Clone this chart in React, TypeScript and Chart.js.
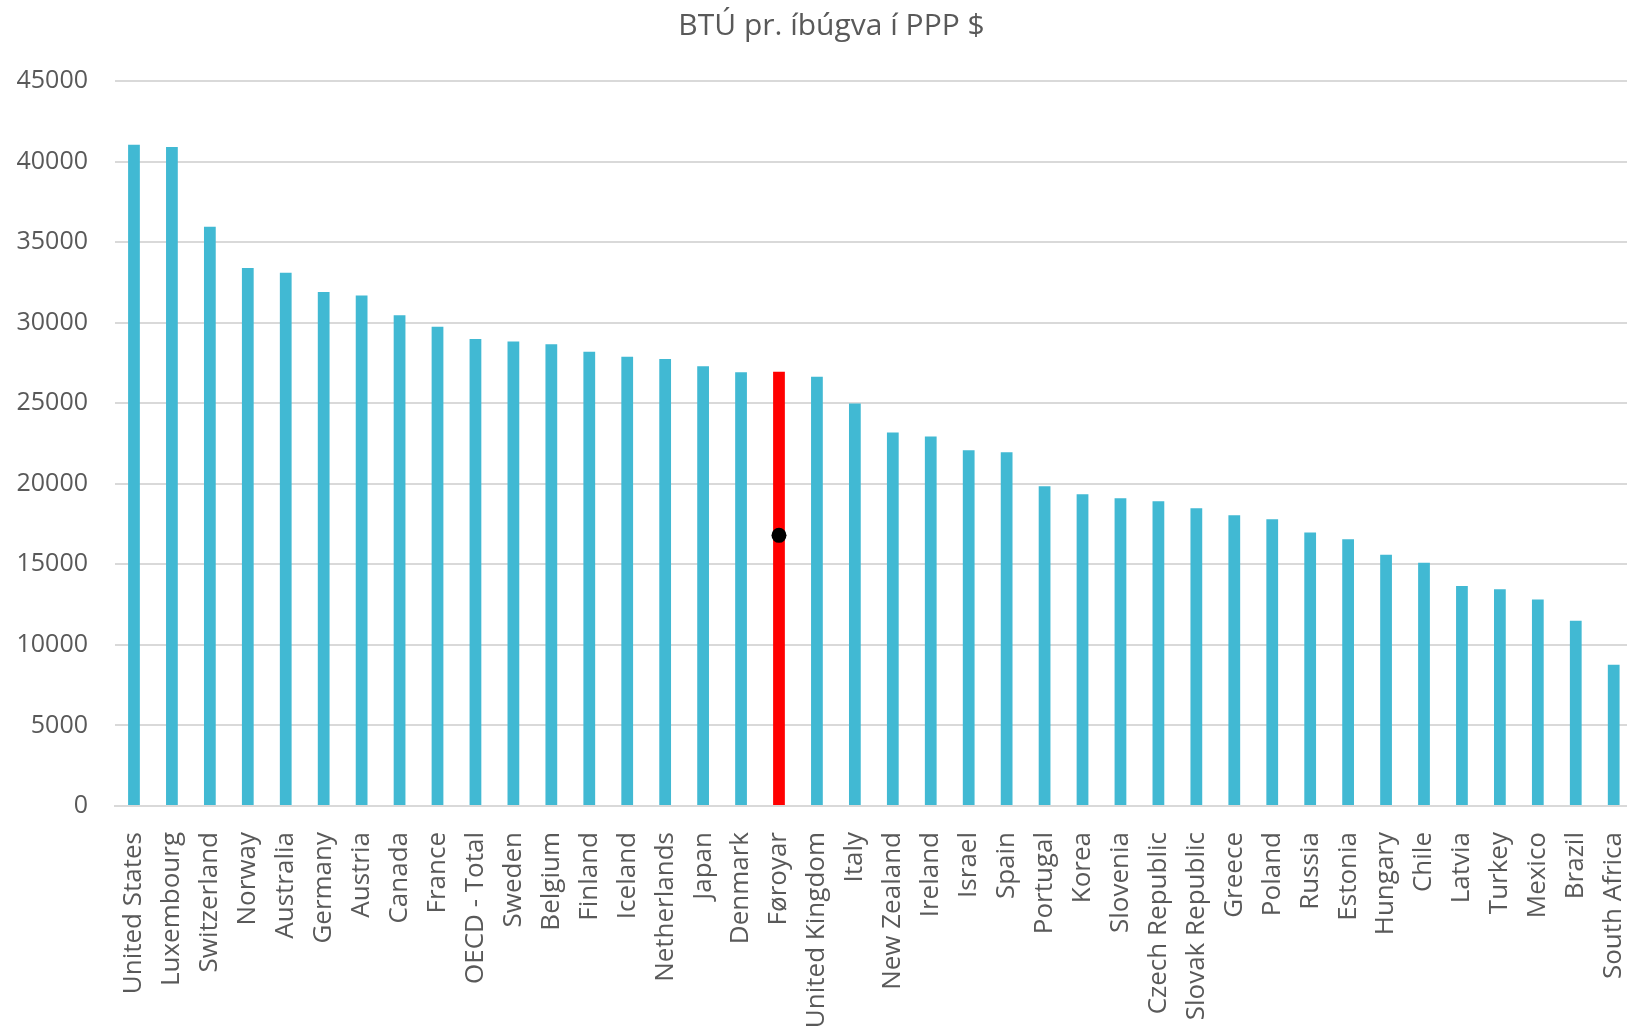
import React, { useEffect, useRef } from "react";
import { Chart, registerables } from "chart.js";

Chart.register(...registerables);

const categories = [
  "United States", "Luxembourg", "Switzerland", "Norway", "Australia", "Germany", "Austria",
  "Canada", "France", "OECD - Total", "Sweden", "Belgium", "Finland", "Iceland", "Netherlands",
  "Japan", "Denmark", "Føroyar", "United Kingdom", "Italy", "New Zealand", "Ireland", "Israel",
  "Spain", "Portugal", "Korea", "Slovenia", "Czech Republic", "Slovak Republic", "Greece",
  "Poland", "Russia", "Estonia", "Hungary", "Chile", "Latvia", "Turkey", "Mexico", "Brazil",
  "South Africa",
];

const btuValues = [
  41050, 40900, 35950, 33400, 33100, 31900, 31680, 30460, 29740, 28980, 28830, 28660, 28200,
  27890, 27740, 27300, 26920, 26950, 26650, 24980, 23180, 22930, 22080, 21960, 19850, 19350,
  19100, 18910, 18480, 18050, 17800, 16980, 16550, 15600, 15100, 13660, 13460, 12820, 11500,
  8760,
];

// Marker dot shown only for Føroyar
const dotValues: (number | null)[] = categories.map((c) => (c === "Føroyar" ? 16800 : null));

const highlightCategory = "Føroyar";
const yTicks = [0, 5000, 10000, 15000, 20000, 25000, 30000, 35000, 40000, 45000];

const BAR_COLOR = "#41B9D3";
const HIGHLIGHT_COLOR = "#FF0000";
const TEXT_COLOR = "#595959";
const GRID_COLOR = "#D9D9D9";
const FONT = "'Open Sans', 'Noto Sans', sans-serif";

export default function App() {
  const ref = useRef<HTMLCanvasElement | null>(null);

  useEffect(() => {
    if (!ref.current) return;
    const chart = new Chart(ref.current, {
      type: "bar",
      data: {
        labels: categories,
        datasets: [
          {
            type: "line",
            data: dotValues,
            showLine: false,
            pointRadius: 7.5,
            pointHoverRadius: 7.5,
            pointBackgroundColor: "#000000",
            pointBorderColor: "#000000",
            pointBorderWidth: 0,
            order: 0,
          } as any,
          {
            type: "bar",
            data: btuValues,
            backgroundColor: categories.map((c) => (c === highlightCategory ? HIGHLIGHT_COLOR : BAR_COLOR)),
            borderWidth: 0,
            barPercentage: 1,
            categoryPercentage: 0.31,
            order: 1,
          },
        ],
      },
      options: {
        responsive: false,
        animation: false,
        devicePixelRatio: 1,
        layout: { padding: { left: 0, right: 0, top: 0, bottom: 0 } },
        plugins: {
          legend: { display: false },
          tooltip: { enabled: false },
          title: {
            display: true,
            text: "BTÚ pr. íbúgva í PPP $",
            color: TEXT_COLOR,
            font: { family: FONT, size: 30, weight: "normal" as any, lineHeight: 1.2 },
            padding: { top: 8, bottom: 37 },
          },
        },
        scales: {
          x: {
            grid: { display: false },
            border: { display: true, color: GRID_COLOR, width: 2 },
            ticks: {
              autoSkip: false,
              maxRotation: 90,
              minRotation: 90,
              padding: 18,
              color: TEXT_COLOR,
              font: { family: FONT, size: 26 },
            },
            afterFit: (scale: any) => {
              scale.height = 221;
            },
          },
          y: {
            min: 0,
            max: 45000,
            afterBuildTicks: (scale: any) => {
              scale.ticks = yTicks.map((v) => ({ value: v }));
            },
            grid: { color: GRID_COLOR, lineWidth: 2, drawTicks: false },
            border: { display: false },
            ticks: {
              padding: 27,
              color: TEXT_COLOR,
              font: { family: FONT, size: 25 },
              callback: (v: any) => String(v),
            },
            afterFit: (scale: any) => {
              scale.width = 115;
            },
          },
        },
      },
    });
    return () => chart.destroy();
  }, []);

  return (
    <div
      style={{
        position: "fixed",
        left: 0,
        top: 0,
        width: 1627,
        height: 1027,
        overflow: "hidden",
        background: "#ffffff",
      }}
    >
      <canvas ref={ref} width={1663} height={1027} style={{ display: "block" }} />
    </div>
  );
}
